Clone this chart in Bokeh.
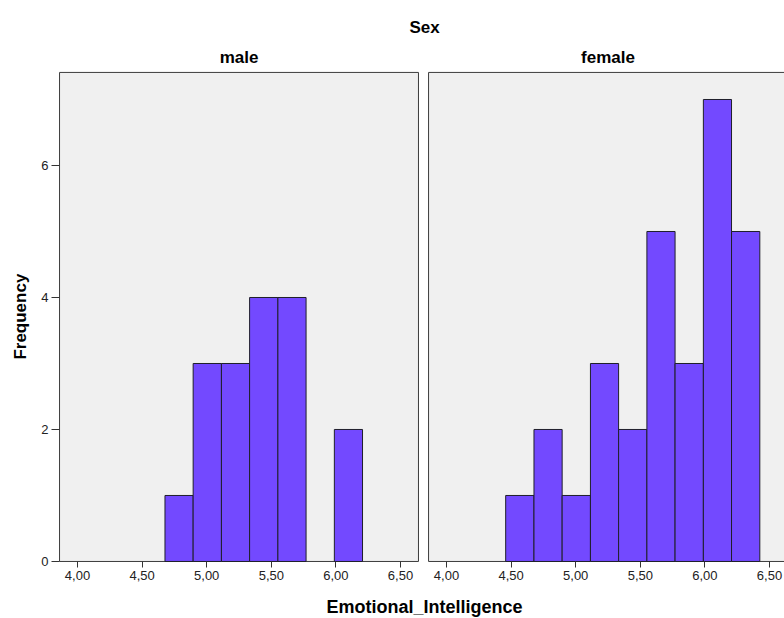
import math
from bokeh.plotting import figure
from bokeh.models import Range1d, FixedTicker, CustomJSTickFormatter, LinearAxis, Label
from bokeh.embed import file_html
from bokeh.resources import INLINE

# ---- data ----
bin_edges = [4.458, 4.677, 4.895, 5.114, 5.332, 5.551, 5.769, 5.988, 6.206, 6.425]
male_counts = [0, 1, 3, 3, 4, 4, 0, 2, 0]
female_counts = [1, 2, 1, 3, 2, 5, 3, 7, 5]
panel_names = ["male", "female"]
x_ticks = [4.0, 4.5, 5.0, 5.5, 6.0, 6.5]
y_ticks = [0, 2, 4, 6]

# ---- layout constants ----
PANEL_X = (3.861, 6.639)
PANEL_TOP = 7.41
MAIN_START, MAIN_END = 3.404, 9.472
OFFSET = 2.856                      # horizontal shift of the female panel
FEM_START, FEM_END = MAIN_START - OFFSET, MAIN_END - OFFSET
Y_START, Y_END = -0.864, 8.5

BAR_FILL = "#7349FF"
BAR_LINE = "#1f1f2a"
PANEL_BG = "#F0F0F0"
PANEL_LINE = "#3c3c3c"
FONT = "Liberation Sans"

p = figure(width=784, height=618, output_backend="svg", toolbar_location=None,
           x_range=Range1d(MAIN_START, MAIN_END), y_range=Range1d(Y_START, Y_END),
           min_border=0, x_axis_location=None, y_axis_location=None)
p.extra_x_ranges = {"female": Range1d(FEM_START, FEM_END)}
p.outline_line_color = None
p.background_fill_color = "white"
p.border_fill_color = "white"
p.grid.visible = False

# panel backgrounds
for rng in ["default", "female"]:
    p.quad(left=[PANEL_X[0]], right=[PANEL_X[1]], bottom=[0], top=[PANEL_TOP],
           fill_color=PANEL_BG, line_color=PANEL_LINE, line_width=1, x_range_name=rng)

# bars
def bars(counts):
    l, r, t = [], [], []
    for i, c in enumerate(counts):
        if c > 0:
            l.append(bin_edges[i]); r.append(bin_edges[i + 1]); t.append(c)
    return l, r, t

ml, mr, mt = bars(male_counts)
p.quad(left=ml, right=mr, bottom=0, top=mt, fill_color=BAR_FILL, line_color=BAR_LINE, line_width=1)
fl, fr, ft = bars(female_counts)
p.quad(left=fl, right=fr, bottom=0, top=ft, fill_color=BAR_FILL, line_color=BAR_LINE,
       line_width=1, x_range_name="female")

# x axis (shared, ticks for both panels)
xa = LinearAxis(fixed_location=0)
xa.ticker = FixedTicker(ticks=x_ticks + [t + OFFSET for t in x_ticks])
xa.formatter = CustomJSTickFormatter(args=dict(off=OFFSET), code="""
    const v = tick > 6.75 ? tick - off : tick;
    return v.toFixed(2).replace('.', ',');
""")
xa.axis_line_color = None
xa.major_tick_out = 6
xa.major_tick_in = 0
xa.major_tick_line_color = "#333333"
xa.minor_tick_line_color = None
xa.major_label_text_font = FONT
xa.major_label_text_font_size = "13px"
xa.major_label_text_color = "#222222"
xa.major_label_standoff = 4
p.add_layout(xa, "below")

ya = LinearAxis(fixed_location=PANEL_X[0])
ya.ticker = FixedTicker(ticks=y_ticks)
ya.axis_line_color = None
ya.major_tick_out = 8
ya.major_tick_in = 0
ya.major_tick_line_color = "#333333"
ya.minor_tick_line_color = None
ya.major_label_text_font = FONT
ya.major_label_text_font_size = "13px"
ya.major_label_text_color = "#222222"
ya.major_label_standoff = 3
p.add_layout(ya, "left")

# titles and axis labels
cx = (PANEL_X[0] + PANEL_X[1]) / 2
for name, rng in zip(panel_names, ["default", "female"]):
    p.add_layout(Label(x=cx, y=7.636, text=name, x_range_name=rng, text_align="center",
                       text_baseline="middle", text_font=FONT, text_font_style="bold",
                       text_font_size="17px", text_color="black"))
p.add_layout(Label(x=6.686, y=8.09, text="Sex", text_align="center", text_baseline="middle",
                   text_font=FONT, text_font_style="bold", text_font_size="17px",
                   text_color="black"))
p.add_layout(Label(x=6.686, y=-0.697, text="Emotional_Intelligence", text_align="center",
                   text_baseline="middle", text_font=FONT, text_font_style="bold",
                   text_font_size="18px", text_color="black"))
p.add_layout(Label(x=3.559, y=3.71, text="Frequency", angle=math.pi / 2, text_align="center",
                   text_baseline="middle", text_font=FONT, text_font_style="bold",
                   text_font_size="17px", text_color="black"))

open("out.html", "w").write(file_html(p, INLINE))
